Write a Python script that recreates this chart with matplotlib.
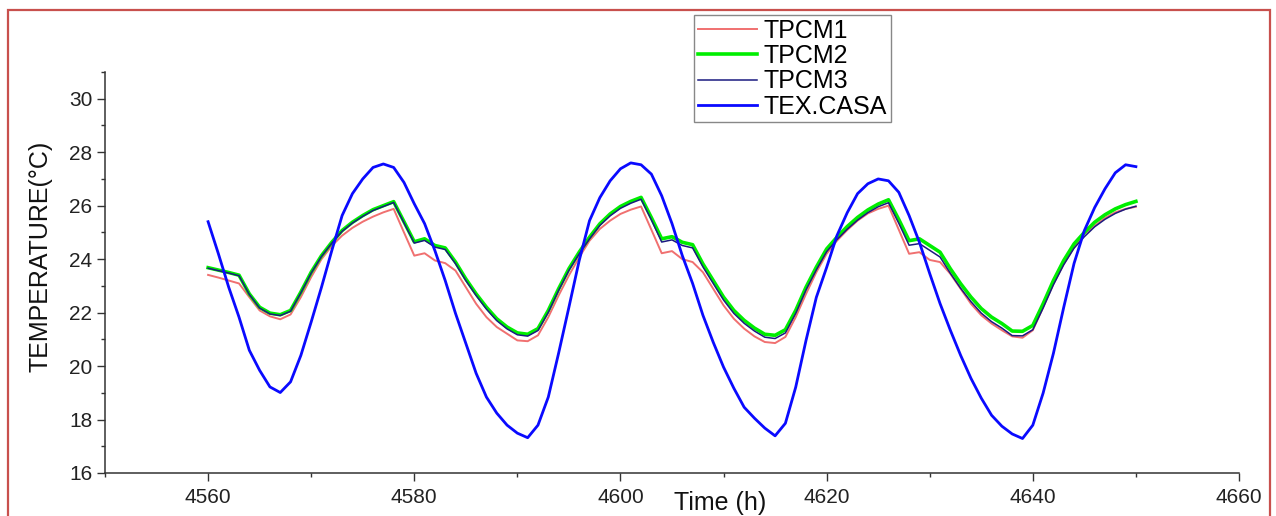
import matplotlib
matplotlib.use("Agg")
import matplotlib.pyplot as plt
from matplotlib.patches import Rectangle
from matplotlib.ticker import MultipleLocator

plt.rcParams['font.family'] = ['Liberation Sans', 'DejaVu Sans']

hours = list(range(4560, 4651))

tpcm1 = [23.41, 23.31, 23.20, 23.09, 22.58, 22.08, 21.86, 21.75, 21.93, 22.58,
         23.33, 24.00, 24.50, 24.88, 25.17, 25.40, 25.59, 25.75, 25.88, 25.00,
         24.13, 24.22, 23.95, 23.85, 23.57, 22.95, 22.33, 21.83, 21.46, 21.21,
         20.96, 20.93, 21.15, 21.83, 22.64, 23.39, 24.07, 24.69, 25.13, 25.44,
         25.69, 25.85, 25.97, 25.10, 24.22, 24.30, 24.00, 23.89, 23.51, 22.89,
         22.27, 21.77, 21.40, 21.11, 20.90, 20.86, 21.09, 21.83, 22.70, 23.51,
         24.20, 24.69, 25.09, 25.44, 25.71, 25.88, 26.00, 25.10, 24.20, 24.26,
         23.97, 23.89, 23.45, 22.89, 22.33, 21.90, 21.59, 21.34, 21.11, 21.06,
         21.34, 22.20, 23.08, 23.82, 24.44, 24.94, 25.25, 25.54, 25.75, 25.88,
         25.96]

tpcm2 = [23.68, 23.59, 23.50, 23.40, 22.70, 22.20, 21.98, 21.92, 22.08, 22.77,
         23.51, 24.13, 24.63, 25.07, 25.38, 25.63, 25.85, 26.00, 26.15, 25.40,
         24.65, 24.76, 24.51, 24.42, 23.89, 23.26, 22.70, 22.20, 21.77, 21.46,
         21.24, 21.19, 21.40, 22.08, 22.89, 23.64, 24.26, 24.82, 25.32, 25.69,
         25.97, 26.16, 26.31, 25.55, 24.76, 24.84, 24.63, 24.54, 23.82, 23.20,
         22.58, 22.08, 21.71, 21.42, 21.19, 21.15, 21.36, 22.08, 22.95, 23.70,
         24.38, 24.82, 25.22, 25.56, 25.84, 26.06, 26.22, 25.48, 24.69, 24.76,
         24.51, 24.26, 23.64, 23.08, 22.58, 22.15, 21.83, 21.59, 21.31, 21.30,
         21.52, 22.33, 23.20, 23.95, 24.57, 25.00, 25.38, 25.66, 25.88, 26.04,
         26.16]

tpcm3 = [23.66, 23.57, 23.48, 23.38, 22.68, 22.17, 21.95, 21.89, 22.05, 22.74,
         23.48, 24.10, 24.60, 25.04, 25.35, 25.60, 25.82, 25.97, 26.12, 25.36,
         24.60, 24.70, 24.45, 24.36, 23.83, 23.20, 22.64, 22.13, 21.70, 21.39,
         21.17, 21.12, 21.33, 22.01, 22.83, 23.58, 24.20, 24.76, 25.26, 25.62,
         25.90, 26.09, 26.24, 25.47, 24.64, 24.72, 24.51, 24.42, 23.71, 23.09,
         22.47, 21.97, 21.60, 21.31, 21.08, 21.03, 21.24, 21.97, 22.85, 23.60,
         24.28, 24.73, 25.12, 25.46, 25.74, 25.96, 26.11, 25.34, 24.52, 24.58,
         24.33, 24.08, 23.47, 22.91, 22.41, 21.98, 21.66, 21.42, 21.14, 21.13,
         21.36, 22.17, 23.04, 23.79, 24.41, 24.84, 25.21, 25.49, 25.71, 25.87,
         25.98]

tex_casa = [25.40, 24.20, 22.95, 21.83, 20.59, 19.84, 19.22, 19.01, 19.41, 20.40,
            21.65, 22.95, 24.32, 25.63, 26.45, 27.00, 27.43, 27.56, 27.43, 26.87,
            26.07, 25.33, 24.32, 23.20, 21.97, 20.85, 19.73, 18.84, 18.24, 17.79,
            17.49, 17.32, 17.79, 18.84, 20.48, 22.20, 23.95, 25.44, 26.30, 26.93,
            27.38, 27.60, 27.53, 27.18, 26.37, 25.33, 24.13, 23.09, 21.90, 20.89,
            19.96, 19.17, 18.46, 18.05, 17.68, 17.39, 17.86, 19.21, 20.96, 22.57,
            23.69, 24.88, 25.74, 26.45, 26.82, 27.00, 26.93, 26.50, 25.63, 24.63,
            23.46, 22.34, 21.34, 20.40, 19.54, 18.80, 18.16, 17.75, 17.46, 17.29,
            17.79, 18.99, 20.48, 22.20, 23.84, 25.07, 25.93, 26.63, 27.23, 27.53,
            27.46]

series_labels = ['TPCM1', 'TPCM2', 'TPCM3', 'TEX.CASA']
x_ticks = [4560, 4580, 4600, 4620, 4640, 4660]
y_ticks = [16, 18, 20, 22, 24, 26, 28, 30]

W, H = 1276, 516
fig = plt.figure(figsize=(W / 100, H / 100), dpi=100, facecolor='white')
ax = fig.add_axes([105 / W, 1 - 473 / H, (1239 - 105) / W, (473 - 72) / H])

l1, = ax.plot(hours, tpcm1, color='#f07070', lw=1.4, label=series_labels[0])
l2, = ax.plot(hours, tpcm2, color='#00ee00', lw=2.6, label=series_labels[1])
l3, = ax.plot(hours, tpcm3, color='#1a1a80', lw=1.1, label=series_labels[2])
l4, = ax.plot(hours, tex_casa, color='#0a0aff', lw=2.0, label=series_labels[3])

ax.set_xlim(4550, 4660)
ax.set_ylim(16, 31)
ax.set_xticks(x_ticks)
ax.set_yticks(y_ticks)
ax.xaxis.set_minor_locator(MultipleLocator(10))
ax.yaxis.set_minor_locator(MultipleLocator(1))

for s in ['top', 'right']:
    ax.spines[s].set_visible(False)
for s in ['left', 'bottom']:
    ax.spines[s].set_linewidth(1.1)
    ax.spines[s].set_color('#333333')

ax.tick_params(axis='both', which='major', direction='out', length=6,
               width=1.0, color='#333333', labelsize=15, labelcolor='#222222')
ax.tick_params(axis='both', which='minor', direction='out', length=3,
               width=1.0, color='#333333')
ax.tick_params(axis='x', which='major', pad=5)
ax.tick_params(axis='y', which='major', pad=3)

ax.set_ylabel('TEMPERATURE(°C)', fontsize=18, color='#111111')
ax.yaxis.set_label_coords(-0.046, 0.54)
fig.text(720 / W, 1 - 503 / H, 'Time (h)', fontsize=18, color='#111111',
         ha='center', va='center')

leg = fig.legend(handles=[l1, l2, l3, l4], loc='upper left',
                 bbox_to_anchor=(694 / W, 1 - 15 / H),
                 bbox_transform=fig.transFigure, borderaxespad=0,
                 fontsize=18, frameon=True, fancybox=False, framealpha=1,
                 edgecolor='#888888', labelspacing=0.05, handlelength=2.35,
                 handletextpad=0.28, borderpad=0.15)
leg.get_frame().set_linewidth(1.0)

border = Rectangle((8 / W, -0.05), (1270 - 8) / W, 1 - 9.5 / H + 0.05,
                   transform=fig.transFigure, fill=False,
                   edgecolor='#c8504d', lw=1.6, zorder=-1)
fig.patches.append(border)

fig.savefig('out.png', dpi=100, facecolor='white')
